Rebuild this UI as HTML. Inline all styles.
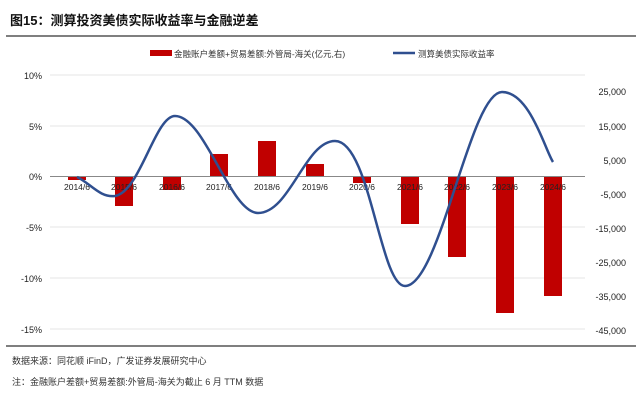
<html><body style="margin:0;width:640px;height:402px;background:#fff;font-family:'Liberation Sans','Noto Sans CJK SC',sans-serif;overflow:hidden">
<svg width="640" height="402" viewBox="0 0 640 402" xmlns="http://www.w3.org/2000/svg" font-family="'Liberation Sans','Noto Sans CJK SC',sans-serif">
<text x="10" y="25" font-size="13" font-weight="bold" fill="#111">图15：测算投资美债实际收益率与金融逆差</text>
<line x1="6" y1="36" x2="636" y2="36" stroke="#555" stroke-width="1.5"/>
<rect x="150" y="50" width="22" height="6" fill="#c00000"/>
<text x="174" y="57" font-size="8.5" fill="#333">金融账户差额+贸易差额:外管局-海关(亿元,右)</text>
<line x1="393" y1="53" x2="415" y2="53" stroke="#2f4f8f" stroke-width="2.5"/>
<text x="418" y="57" font-size="8.5" fill="#333">测算美债实际收益率</text>
<g stroke="#e4e4e4" stroke-width="1">
<line x1="50" y1="75" x2="585" y2="75"/><line x1="50" y1="126" x2="585" y2="126"/><line x1="50" y1="227" x2="585" y2="227"/><line x1="50" y1="278" x2="585" y2="278"/><line x1="50" y1="329" x2="585" y2="329"/>
</g>
<g font-size="9" fill="#222" text-anchor="end">
<text x="42" y="79">10%</text><text x="42" y="130">5%</text><text x="42" y="180">0%</text><text x="42" y="231">-5%</text><text x="42" y="282">-10%</text><text x="42" y="333">-15%</text>
</g>
<g font-size="9" fill="#222" text-anchor="end">
<text x="626" y="95">25,000</text><text x="626" y="130">15,000</text><text x="626" y="164">5,000</text><text x="626" y="198">-5,000</text><text x="626" y="232">-15,000</text><text x="626" y="266">-25,000</text><text x="626" y="300">-35,000</text><text x="626" y="334">-45,000</text>
</g>
<g fill="#c00000">
<rect x="68" y="176.5" width="18" height="3.5"/>
<rect x="115" y="176.5" width="18" height="29.5"/>
<rect x="163" y="176.5" width="18" height="13.5"/>
<rect x="210" y="154" width="18" height="22.5"/>
<rect x="258" y="141" width="18" height="35.5"/>
<rect x="306" y="164" width="18" height="12.5"/>
<rect x="353" y="176.5" width="18" height="6.5"/>
<rect x="401" y="176.5" width="18" height="47.5"/>
<rect x="448" y="176.5" width="18" height="80.5"/>
<rect x="496" y="176.5" width="18" height="136.5"/>
<rect x="544" y="176.5" width="18" height="119.5"/>
</g>
<line x1="50" y1="176.5" x2="585" y2="176.5" stroke="#888" stroke-width="1"/>
<g font-size="8.5" fill="#222" text-anchor="middle">
<text x="77" y="190">2014/6</text><text x="124" y="190">2015/6</text><text x="172" y="190">2016/6</text><text x="219" y="190">2017/6</text><text x="267" y="190">2018/6</text><text x="315" y="190">2019/6</text><text x="362" y="190">2020/6</text><text x="410" y="190">2021/6</text><text x="457" y="190">2022/6</text><text x="505" y="190">2023/6</text><text x="553" y="190">2024/6</text>
</g>
<path d="M77,177 C90,183 100,198 115,196 C140,192 155,116 175,116 C205,116 230,213 258,213 C290,213 305,141 335,141 C370,141 380,286 405,286 C440,286 470,92 502,92 C530,92 545,150 553,162" fill="none" stroke="#2f4f8f" stroke-width="2.5"/>
<line x1="6" y1="346" x2="636" y2="346" stroke="#555" stroke-width="1.5"/>
<text x="12" y="364" font-size="9" fill="#333">数据来源：同花顺 iFinD，广发证券发展研究中心</text>
<text x="12" y="385" font-size="9" fill="#333">注：金融账户差额+贸易差额:外管局-海关为截止 6 月 TTM 数据</text>
</svg>
</body></html>
